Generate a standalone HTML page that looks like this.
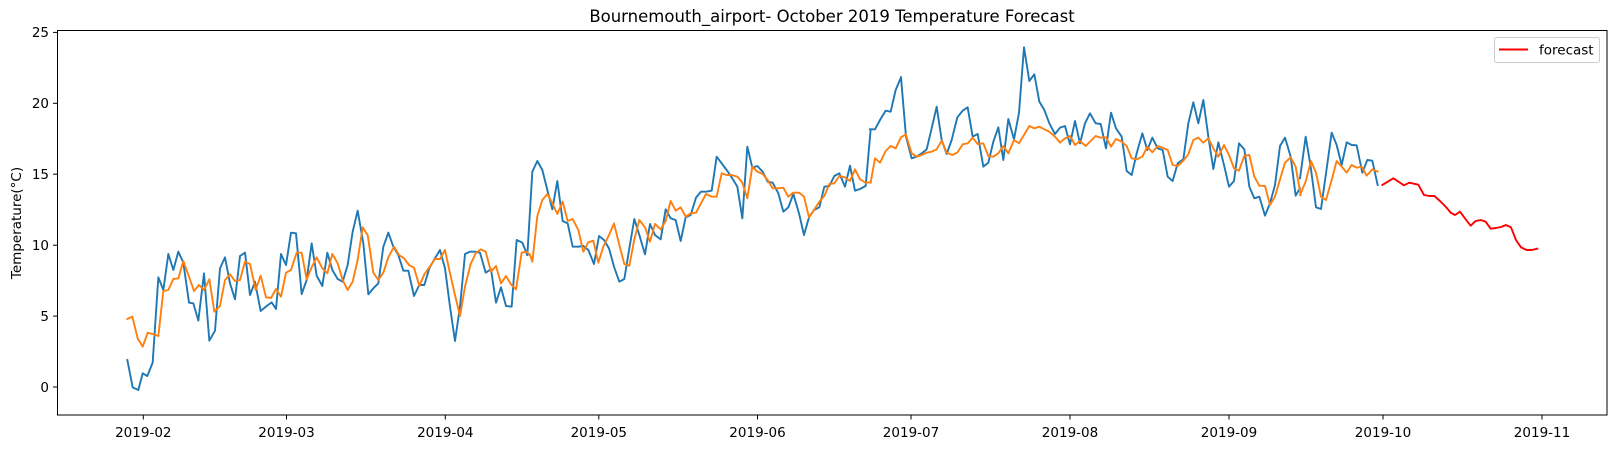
<!DOCTYPE html>
<html><head><meta charset="utf-8"><style>
html,body{margin:0;padding:0;background:#fff;}
svg{display:block;font-family:"DejaVu Sans","Liberation Sans",sans-serif;}
polyline{stroke-width:1.9px;}
</style></head><body>
<svg width="1617" height="449" viewBox="0 0 1617 449" xmlns="http://www.w3.org/2000/svg">
<rect width="1617" height="449" fill="#fff"/>
<text x="832" y="22" font-size="16.5" text-anchor="middle" fill="#000">Bournemouth_airport- October 2019 Temperature Forecast</text>
<text transform="translate(21,223) rotate(-90)" font-size="13.5" text-anchor="middle" fill="#000">Temperature(°C)</text>
<g fill="none" stroke-linejoin="round" stroke-linecap="square">
<g transform="translate(110,180) scale(0.33333)" stroke="#1f77b4">
<polyline vector-effect="non-scaling-stroke" points="52,540 68,622 85,630 98,580 112,588 128,548 145,292 160,330 175,222 190,270 205,215 220,248 237,368 250,370 265,422 282,280 298,482 315,452 330,265 345,232 360,310 375,358 390,228 405,218 420,345 435,305 452,393 470,378 485,367 498,387 513,222 528,255 543,158 558,160 575,342 590,300 605,190 620,287 637,318 652,218 667,270 683,297 698,305 713,255 728,155 743,92 760,190 775,343 790,325 805,310 820,200 835,158 850,200 865,225 880,272 895,272 912,348 928,315 943,315 958,265 973,238 990,210 1005,265 1020,380 1035,483 1050,380 1065,222 1080,215 1095,215 1110,218 1127,278 1143,268 1158,368 1173,322 1188,378 1205,380 1220,180 1237,188 1252,225"/>
</g>
<g transform="translate(500,120) scale(0.33333)" stroke="#1f77b4">
<polyline vector-effect="non-scaling-stroke" points="82,405 97,155 112,123 127,150 142,210 157,268 172,183 188,303 203,310 218,380 235,380 250,378 265,390 282,432 297,348 312,360 327,385 342,440 358,485 373,477 388,385 403,297 418,345 435,403 450,312 465,345 482,358 497,268 512,295 527,300 542,363 557,292 572,285 588,233 603,215 618,215 635,212 650,110 665,130 680,150 695,172 712,200 727,295 742,80 757,143 772,138 788,155 803,185 818,188 835,220 850,275 865,262 880,222 897,280 912,345 927,292 942,270 958,262 973,200 988,198 1003,168 1018,160 1035,200 1050,137 1065,212 1080,207 1097,198 1112,28"/>
</g>
<g transform="translate(820,40) scale(0.33333)" stroke="#1f77b4">
<polyline vector-effect="non-scaling-stroke" points="150,268 165,268 180,240 197,212 212,215 227,150 243,112"/>
</g>
<g transform="translate(900,40) scale(0.33333)" stroke="#1f77b4">
<polyline vector-effect="non-scaling-stroke" points="3,112 18,290 35,355 50,350 65,340 80,328 95,265 110,200 125,300 140,342 155,300 172,232 188,212 203,202 218,290 233,282 250,380 265,368 280,305 295,262 310,360 325,237 342,298 357,218 372,22 388,123 403,103 418,185 433,210 448,250 465,282 480,263 495,258 510,313 525,243 540,310 555,250 570,220 587,250 602,252 618,325 633,218 648,265 665,290 680,393 695,405 710,340 727,280 742,330 757,293 773,325 788,330 803,410 818,423 833,370 850,358 865,250 880,187 895,250 910,180 925,290 940,387 955,307 972,375 987,440 1002,423 1017,310 1033,328 1048,440 1063,475 1078,470 1095,527 1110,490 1125,435 1140,318 1155,293 1172,350 1187,467 1200,445"/>
</g>
<g transform="translate(1300,30) scale(0.33333)" stroke="#1f77b4">
<polyline vector-effect="non-scaling-stroke" points="0,445 17,320 32,410 48,532 63,537 78,430 95,308 110,345 125,405 140,337 155,345 170,346 187,428 202,390 217,392 233,465"/>
</g>
<g transform="translate(110,180) scale(0.33333)" stroke="#ff7f0e">
<polyline vector-effect="non-scaling-stroke" points="52,417 67,410 83,475 98,500 113,458 128,462 145,468 160,333 175,330 190,297 205,295 220,243 237,290 252,333 267,315 282,330 298,298 313,395 330,378 345,300 360,283 375,303 390,300 405,245 420,252 437,330 452,287 468,352 483,354 498,327 513,350 528,278 543,270 560,218 575,218 590,298 605,262 620,232 637,265 652,280 667,222 683,250 698,300 713,330 728,305 743,240 758,142 773,165 790,278 805,300 820,278 835,232 852,200 867,225 882,235 897,255 912,263 928,318 943,283 958,262 975,237 990,237 1005,210 1020,280 1035,345 1050,408 1065,320 1082,252 1097,220 1112,208 1127,215 1143,275 1158,258 1173,310 1188,288 1203,313 1218,328 1235,218 1250,215 1260,225"/>
</g>
<g transform="translate(500,120) scale(0.33333)" stroke="#ff7f0e">
<polyline vector-effect="non-scaling-stroke" points="90,405 97,425 112,288 127,240 142,222 157,250 172,282 188,245 203,303 218,297 235,330 250,395 265,367 280,362 295,428 310,380 327,345 342,310 358,375 373,432 388,437 403,358 418,300 435,322 450,365 465,312 482,328 497,303 512,243 527,272 542,262 557,290 572,280 588,278 603,250 618,222 635,230 650,230 665,160 680,165 695,165 712,170 727,188 742,235 757,140 772,155 788,162 803,180 818,205 835,205 850,203 865,230 880,218 897,218 912,230 927,292 942,270 958,245 973,228 988,192 1003,190 1018,168 1035,172 1050,183 1065,148 1080,178 1097,188 1112,187"/>
</g>
<g transform="translate(820,40) scale(0.33333)" stroke="#ff7f0e">
<polyline vector-effect="non-scaling-stroke" points="152,428 165,355 180,368 197,333 212,318 227,325 243,292 258,283"/>
</g>
<g transform="translate(900,40) scale(0.33333)" stroke="#ff7f0e">
<polyline vector-effect="non-scaling-stroke" points="18,285 35,340 50,350 65,345 80,338 95,335 110,328 125,302 140,338 157,345 172,338 188,313 203,310 218,293 233,312 250,310 265,348 280,350 295,340 310,318 325,340 342,300 357,310 372,285 388,258 403,265 418,260 433,268 448,275 465,290 480,308 495,295 510,288 525,315 540,303 557,318 572,303 587,288 602,293 618,292 633,320 648,297 665,305 680,318 695,355 710,358 727,350 742,320 757,337 773,318 788,323 803,330 818,375 833,378 850,362 865,343 880,300 895,293 910,308 925,295 940,325 955,350 972,315 987,345 1002,385 1017,392 1033,347 1048,345 1063,410 1078,437 1095,438 1110,495 1125,470 1140,418 1155,368 1172,352 1187,380 1202,465"/>
</g>
<g transform="translate(1300,30) scale(0.33333)" stroke="#ff7f0e">
<polyline vector-effect="non-scaling-stroke" points="0,495 17,455 33,393 48,428 63,500 78,510 95,450 110,393 125,410 140,428 155,405 170,413 185,410 200,437 217,418 233,425"/>
</g>
<g transform="translate(1300,30) scale(0.33333)" stroke="#ff0000">
<polyline vector-effect="non-scaling-stroke" points="247,465 280,445 312,466 328,458 355,464 372,495 388,498 403,498 420,513 437,530 452,548 465,555 480,545 497,568 512,587 527,573 542,570 557,575 572,596 588,594 603,591 618,585 633,592 648,630 663,652 680,660 695,660 712,656"/>
</g>
</g>
<rect x="57.5" y="30.5" width="1549.5" height="384.5" fill="none" stroke="#000" stroke-width="1"/>
<g stroke="#000" stroke-width="1">
<line x1="53" y1="387" x2="57.5" y2="387"/>
<line x1="53" y1="316.1" x2="57.5" y2="316.1"/>
<line x1="53" y1="245.2" x2="57.5" y2="245.2"/>
<line x1="53" y1="174.2" x2="57.5" y2="174.2"/>
<line x1="53" y1="103.3" x2="57.5" y2="103.3"/>
<line x1="53" y1="32.4" x2="57.5" y2="32.4"/>
</g>
<g font-size="13.5" text-anchor="end" fill="#000">
<text x="49" y="392">0</text>
<text x="49" y="321">5</text>
<text x="49" y="250">10</text>
<text x="49" y="179">15</text>
<text x="49" y="108">20</text>
<text x="49" y="37">25</text>
</g>
<g stroke="#000" stroke-width="1">
<line x1="143.3" y1="415" x2="143.3" y2="419.5"/>
<line x1="286.5" y1="415" x2="286.5" y2="419.5"/>
<line x1="445.3" y1="415" x2="445.3" y2="419.5"/>
<line x1="598.8" y1="415" x2="598.8" y2="419.5"/>
<line x1="757.5" y1="415" x2="757.5" y2="419.5"/>
<line x1="911" y1="415" x2="911" y2="419.5"/>
<line x1="1070" y1="415" x2="1070" y2="419.5"/>
<line x1="1229" y1="415" x2="1229" y2="419.5"/>
<line x1="1383" y1="415" x2="1383" y2="419.5"/>
<line x1="1542" y1="415" x2="1542" y2="419.5"/>
</g>
<g font-size="13.5" text-anchor="middle" fill="#000">
<text x="143.3" y="437">2019-02</text>
<text x="286.5" y="437">2019-03</text>
<text x="445.3" y="437">2019-04</text>
<text x="598.8" y="437">2019-05</text>
<text x="757.5" y="437">2019-06</text>
<text x="911" y="437">2019-07</text>
<text x="1070" y="437">2019-08</text>
<text x="1229" y="437">2019-09</text>
<text x="1383" y="437">2019-10</text>
<text x="1542" y="437">2019-11</text>
</g>
<rect x="1494.5" y="37.5" width="105" height="25" rx="2" fill="#fff" stroke="#ccc" stroke-width="1"/>
<line x1="1499" y1="49.5" x2="1528" y2="49.5" stroke="#ff0000" stroke-width="1.9"/>
<text x="1539" y="54.5" font-size="13.5" fill="#000">forecast</text>
</svg>
</body></html>
